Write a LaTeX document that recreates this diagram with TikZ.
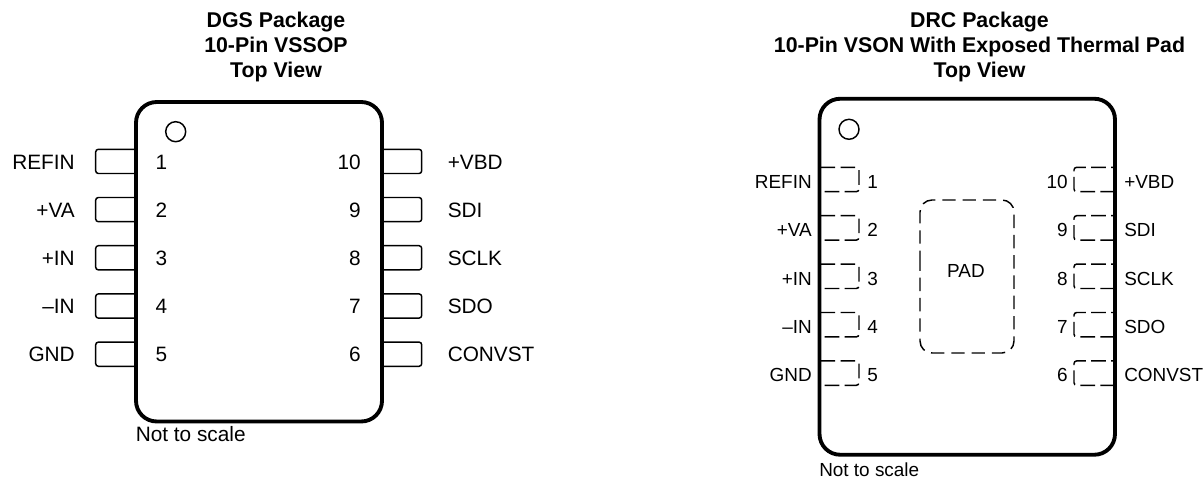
\documentclass[tikz,border=0pt]{standalone}
\usepackage{fontspec}
\setmainfont{Liberation Sans}
\usetikzlibrary{positioning}
\tikzset{
    body/.style = {draw, line width = 2.9pt, rounded corners = 15.5pt, inner sep = 0pt},
    pin/.style = {line width = 1.1pt, rounded corners = 2pt},
    dashpin/.style = {pin, dash pattern = on 11pt off 4pt},
    dashpad/.style = {pin, dash pattern = on 10pt off 5.2pt, rounded corners = 9pt},
    dot/.style = {draw, circle, line width = 1.1pt, minimum width = 15pt, inner sep = 0pt},
    title/.style = {font = \fontsize{16pt}{18.4pt}\selectfont\bfseries, align = center, inner sep = 0pt},
    biglabel/.style = {font = \fontsize{15.6pt}{18pt}\selectfont, inner sep = 0pt, text height = 11.2pt, text depth = 0pt},
    smalllabel/.style = {font = \fontsize{14.2pt}{16pt}\selectfont, inner sep = 0pt, text height = 10.2pt, text depth = 0pt}
}
\begin{document}
\begin{tikzpicture}[x = 0.75pt, y = -0.75pt]
    \useasboundingbox (0, 0) rectangle (1204, 477);

    % DGS package
    \node[title] (dgstitle) at (276, 47) {DGS Package\\10-Pin VSSOP\\Top View};
    \node[body, minimum width = 184.5pt, minimum height = 239.6pt] (dgs) at (259, 261.75) {};
    \node[dot] (dgsdot) at (175.7, 131.7) {};
    \foreach \i/\lab/\num in {0/REFIN/1, 1/+VA/2, 2/+IN/3, 3/--IN/4, 4/GND/5} {
        \draw[pin] (136, 149.3 + 48.2*\i) -- (95.7, 149.3 + 48.2*\i) -- (95.7, 173.5 + 48.2*\i) -- (136, 173.5 + 48.2*\i);
        \node[biglabel, anchor = east] (dgsl\num) at (75, 162.4 + 48*\i) {\lab};
        \node[biglabel] (dgsn\num) at (161.3, 162.4 + 48*\i) {\num};
    }
    \foreach \i/\lab/\num in {0/+VBD/10, 1/SDI/9, 2/SCLK/8, 3/SDO/7, 4/CONVST/6} {
        \draw[pin] (382, 149.3 + 48.2*\i) -- (421.7, 149.3 + 48.2*\i) -- (421.7, 173.5 + 48.2*\i) -- (382, 173.5 + 48.2*\i);
        \node[biglabel, anchor = west] (dgsl\num) at (447.5, 162.4 + 48*\i) {\lab};
        \node[biglabel, anchor = east] (dgsn\num) at (361, 162.4 + 48*\i) {\num};
    }
    \node[biglabel, anchor = west] (dgsnote) at (135.5, 434.5) {Not to scale};

    % DRC package
    \node[title] (drctitle) at (979.5, 47) {DRC Package\\10-Pin VSON With Exposed Thermal Pad\\Top View};
    \node[body, minimum width = 221.6pt, minimum height = 267pt] (drc) at (967.25, 276.75) {};
    \node[dot] (drcdot) at (849, 129.3) {};
    \draw[dashpad] (920, 276) -- (920, 200) -- (1014, 200) -- (1014, 353) -- (920, 353) -- cycle;
    \node[smalllabel] (drcpad) at (966, 270.5) {PAD};
    \foreach \i/\lab/\num in {0/REFIN/1, 1/+VA/2, 2/+IN/3, 3/--IN/4, 4/GND/5} {
        \draw[dashpin, dash phase = 14.2pt] (819.5, 167.3 + 48.4*\i) -- (859, 167.3 + 48.4*\i) -- (859, 191.7 + 48.4*\i) -- (819.5, 191.7 + 48.4*\i);
        \node[smalllabel, anchor = east] (drcl\num) at (812, 181.7 + 48.3*\i) {\lab};
        \node[smalllabel, anchor = west] (drcn\num) at (867, 181.7 + 48.3*\i) {\num};
    }
    \foreach \i/\lab/\num in {0/+VBD/10, 1/SDI/9, 2/SCLK/8, 3/SDO/7, 4/CONVST/6} {
        \draw[dashpin] (1115, 191.7 + 48.4*\i) -- (1074, 191.7 + 48.4*\i) -- (1074, 167.3 + 48.4*\i) -- (1115, 167.3 + 48.4*\i);
        \node[smalllabel, anchor = west] (drcl\num) at (1124, 181.7 + 48.3*\i) {\lab};
        \node[smalllabel, anchor = east] (drcn\num) at (1068, 181.7 + 48.3*\i) {\num};
    }
    \node[smalllabel, anchor = west] (drcnote) at (819, 469.5) {Not to scale};
\end{tikzpicture}
\end{document}
